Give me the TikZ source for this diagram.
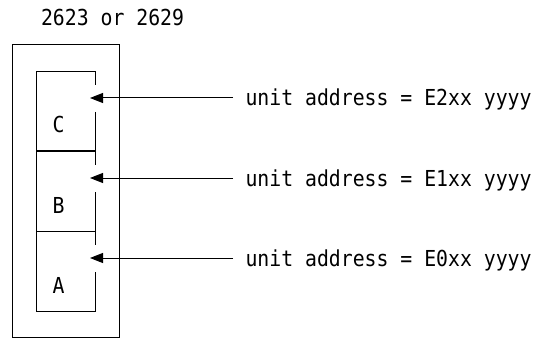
\documentclass[tikz,border=0pt]{standalone}
\usepackage{fontspec}
\setmonofont{DejaVu Sans Mono}[FakeStretch=0.9]
\usetikzlibrary{arrows.meta}
\begin{document}
\begin{tikzpicture}[x=1pt,y=-1pt,line width=1pt,
  every node/.style={font=\ttfamily\fontsize{22}{26}\selectfont,inner sep=0pt},
  unitname/.style={anchor=base},
  addr/.style={anchor=base west,inner xsep=12pt},
  feed/.style={-{Triangle[length=13pt,width=10pt]}}]

\useasboundingbox (0,0) rectangle (537,339);

\def \Lft{36}
\def \Rgt{95.5}

% control unit housing
\draw (12,45) rectangle (119,337);
\node[anchor=base west] (title) at (40.5,26) {2623 or 2629};

% three slots, gaps on the right for the arrows
\draw (\Rgt,85) -- (\Rgt,72) -- (\Lft,72) -- (\Lft,311) -- (\Rgt,311) -- (\Rgt,272);
\draw (\Rgt,112) -- (\Rgt,165);
\draw (\Rgt,192) -- (\Rgt,245);
\draw (\Lft,151) -- (\Rgt,151);
\draw (\Lft,231) -- (\Rgt,231);

\node[unitname] (unitC) at (58.5,133) {C};
\node[unitname] (unitB) at (58.5,213) {B};
\node[unitname] (unitA) at (58.5,293) {A};

% addresses
\coordinate (tipC) at (90,98);
\coordinate (tipB) at (90,178);
\coordinate (tipA) at (90,258);
\node[addr] (addrC) at (233,106) {unit address = E2xx yyyy};
\node[addr] (addrB) at (233,186) {unit address = E1xx yyyy};
\node[addr] (addrA) at (233,266) {unit address = E0xx yyyy};
\draw[feed] (addrC.west |- tipC) -- (tipC);
\draw[feed] (addrB.west |- tipB) -- (tipB);
\draw[feed] (addrA.west |- tipA) -- (tipA);

\end{tikzpicture}
\end{document}
